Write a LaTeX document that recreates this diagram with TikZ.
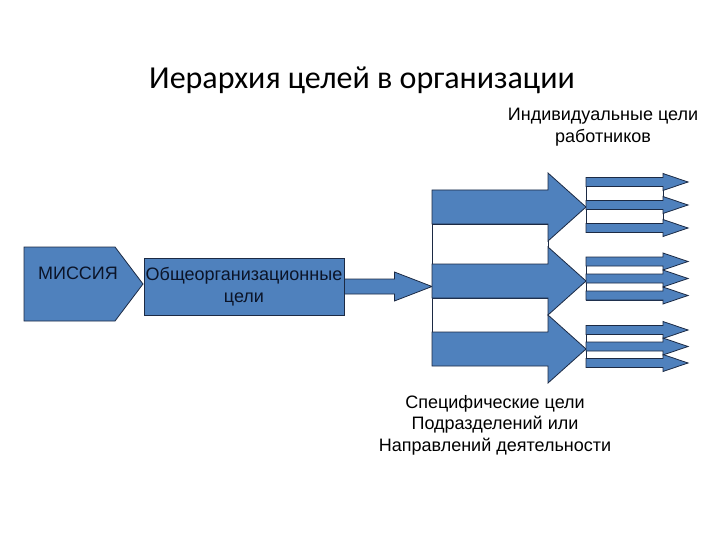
\documentclass[tikz,border=0pt]{standalone}
\usepackage{fontspec}
\setmainfont{Liberation Sans}
\newfontfamily\titlefont{Carlito}
\usepackage{tikz}
\usetikzlibrary{positioning, calc}
\definecolor{goalblue}{HTML}{4F81BD}
\definecolor{goaledge}{HTML}{1C2A44}
\definecolor{goalink}{HTML}{0B1428}
\tikzset{
    goalfill/.style={fill=goalblue, draw=goaledge, line width=0.8pt},
    gapfill/.style={fill=white, draw=goaledge, line width=0.8pt},
    goaltext/.style={font=\fontsize{18}{21.5}\selectfont, align=center, inner sep=0pt}
}

\begin{document}
\begin{tikzpicture}[x=1pt, y=-1pt]
        \useasboundingbox (0,0) rectangle (720,540); % slide frame
        \node [font=\titlefont\fontsize{32}{38}\selectfont, inner sep=0pt] (title) at (362,80) {Иерархия целей в организации}; % title
        \draw [goalfill] (24,247) -- (115,247) -- (143,284) -- (115,321) -- (24,321) -- cycle; % mission pentagon
        \node [goaltext, text=goalink] (mis) at (78,273) {МИССИЯ}; % mission text
        \node [goalfill, goaltext, text=goalink, minimum width=200pt, minimum height=57pt] (gen) at (244,286.5) {Общеорганизационные\\цели}; % general goals box
        \coordinate (blk) at (432,286.5); % left edge of the unit block
        \draw [goalfill] ($(gen.east)+(0,-7.5)$) -- ($(gen.east)+(50,-7.5)$) -- ($(gen.east)+(50,-14.5)$) -- (blk)
            -- ($(gen.east)+(50,14.5)$) -- ($(gen.east)+(50,7.5)$) -- ($(gen.east)+(0,7.5)$) -- cycle; % general goals -> units
        % unit goals
        \draw [gapfill] (432,224) rectangle (548,264);
        \draw [gapfill] (432,298) rectangle (548,332);
        \foreach \c in {207,281,349} {
            \draw [goalfill] (432,\c-17) -- (548,\c-17) -- (548,\c-34) -- (586,\c) -- (548,\c+34) -- (548,\c+17) -- (432,\c+17) -- cycle;
        }
        % individual goals
        \foreach \g/\s in {205/23, 278.5/17, 346.5/16.5} {
            \draw [gapfill] (586,\g-\s-4.5) rectangle (663,\g+\s+4.5);
            \foreach \k in {-1,0,1} {
                \pgfmathsetmacro\c{\g+\k*\s}
                \draw [goalfill] (586,\c-4.5) -- (663,\c-4.5) -- (663,\c-8.5) -- (688,\c) -- (663,\c+8.5) -- (663,\c+4.5) -- (586,\c+4.5) -- cycle;
            }
        }
        \node [goaltext] (ind) at (603,127) {Индивидуальные цели\\работников}; % top label
        \node [goaltext] (spec) at (495,425) {Специфические цели\\Подразделений или\\Направлений деятельности}; % bottom label
\end{tikzpicture}
\end{document}
